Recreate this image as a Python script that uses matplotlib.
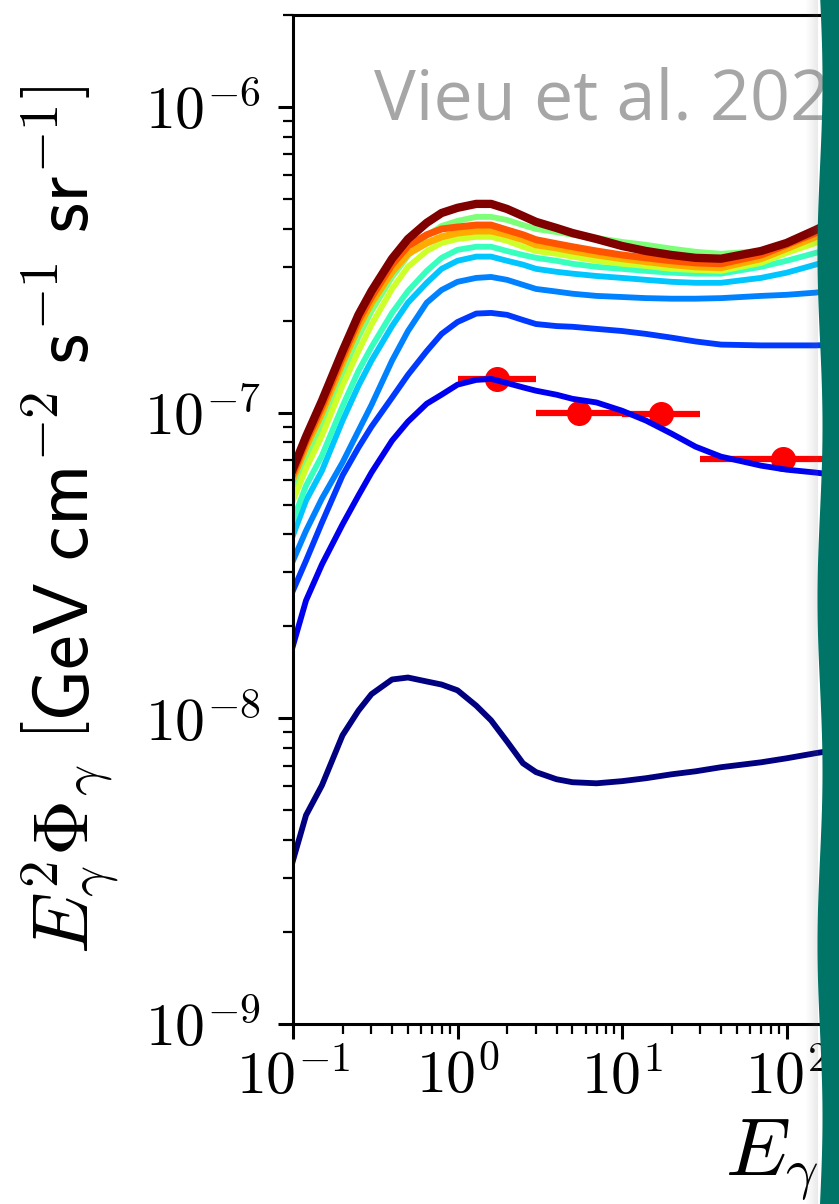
import matplotlib
matplotlib.use("Agg")
import matplotlib.pyplot as plt
from matplotlib.patches import Polygon, Rectangle
from matplotlib.ticker import FuncFormatter
import numpy as np

plt.rcParams['mathtext.fontset'] = 'cm'
plt.rcParams['font.family'] = ['DejaVu Sans']

# -----------------------------
# Data
# -----------------------------
energy = [0.1, 0.12, 0.15, 0.2, 0.25, 0.3, 0.4, 0.5, 0.65, 0.8, 1.0, 1.3, 1.6, 2,
          2.5, 3, 4, 5, 7, 10, 14, 20, 28, 40, 70, 100, 150, 300]

# model curves, from lowest to highest (jet colour index)
flux_c000 = [3.43e-9, 4.82e-9, 6.04e-9, 8.8e-9, 1.06e-8, 1.2e-8, 1.34e-8, 1.36e-8,
             1.32e-8, 1.29e-8, 1.235e-8, 1.10e-8, 9.85e-9, 8.4e-9, 7.13e-9, 6.67e-9,
             6.32e-9, 6.18e-9, 6.13e-9, 6.23e-9, 6.37e-9, 6.56e-9, 6.71e-9, 6.92e-9,
             7.18e-9, 7.40e-9, 7.69e-9, 8.16e-9]
flux_c010 = [1.73e-8, 2.43e-8, 3.19e-8, 4.31e-8, 5.36e-8, 6.37e-8, 8.1e-8, 9.35e-8,
             1.07e-7, 1.145e-7, 1.235e-7, 1.28e-7, 1.29e-7, 1.25e-7, 1.21e-7, 1.18e-7,
             1.145e-7, 1.11e-7, 1.08e-7, 1.015e-7, 9.42e-8, 8.54e-8, 7.74e-8, 7.18e-8,
             6.71e-8, 6.51e-8, 6.37e-8, 6.09e-8]
flux_c018 = [2.62e-8, 3.28e-8, 4.37e-8, 6.23e-8, 7.69e-8, 9.0e-8, 1.12e-7, 1.33e-7,
             1.59e-7, 1.81e-7, 1.98e-7, 2.11e-7, 2.12e-7, 2.09e-7, 2.01e-7, 1.95e-7,
             1.92e-7, 1.91e-7, 1.88e-7, 1.85e-7, 1.81e-7, 1.76e-7, 1.71e-7, 1.67e-7,
             1.66e-7, 1.66e-7, 1.66e-7, 1.68e-7]
flux_c025 = [3.28e-8, 4.11e-8, 5.24e-8, 6.87e-8, 8.73e-8, 1.06e-7, 1.48e-7, 1.85e-7,
             2.29e-7, 2.52e-7, 2.68e-7, 2.76e-7, 2.78e-7, 2.72e-7, 2.62e-7, 2.54e-7,
             2.49e-7, 2.45e-7, 2.41e-7, 2.39e-7, 2.37e-7, 2.36e-7, 2.36e-7, 2.37e-7,
             2.41e-7, 2.43e-7, 2.47e-7, 2.60e-7]
flux_c032 = [3.97e-8, 5.16e-8, 6.46e-8, 9.42e-8, 1.225e-7, 1.48e-7, 1.92e-7, 2.29e-7,
             2.66e-7, 2.955e-7, 3.14e-7, 3.24e-7, 3.24e-7, 3.14e-7, 3.05e-7, 2.955e-7,
             2.89e-7, 2.85e-7, 2.80e-7, 2.76e-7, 2.72e-7, 2.68e-7, 2.66e-7, 2.66e-7,
             2.76e-7, 2.87e-7, 3.05e-7, 3.38e-7]
flux_c042 = [4.44e-8, 5.77e-8, 7.24e-8, 1.05e-7, 1.37e-7, 1.64e-7, 2.12e-7, 2.50e-7,
             2.91e-7, 3.21e-7, 3.41e-7, 3.49e-7, 3.49e-7, 3.38e-7, 3.28e-7, 3.21e-7,
             3.14e-7, 3.07e-7, 3.0e-7, 2.955e-7, 2.91e-7, 2.87e-7, 2.85e-7, 2.85e-7,
             3.0e-7, 3.14e-7, 3.33e-7, 3.70e-7]
flux_c050 = [5.56e-8, 7.08e-8, 9.2e-8, 1.35e-7, 1.77e-7, 2.15e-7, 2.78e-7, 3.26e-7,
             3.79e-7, 4.08e-7, 4.24e-7, 4.37e-7, 4.37e-7, 4.27e-7, 4.11e-7, 3.99e-7,
             3.90e-7, 3.82e-7, 3.73e-7, 3.62e-7, 3.54e-7, 3.44e-7, 3.36e-7, 3.31e-7,
             3.38e-7, 3.51e-7, 3.70e-7, 4.18e-7]
flux_c060 = [5.16e-8, 6.56e-8, 8.41e-8, 1.225e-7, 1.59e-7, 1.94e-7, 2.54e-7, 3.0e-7,
             3.38e-7, 3.59e-7, 3.70e-7, 3.76e-7, 3.76e-7, 3.65e-7, 3.49e-7, 3.38e-7,
             3.31e-7, 3.24e-7, 3.14e-7, 3.07e-7, 3.02e-7, 2.955e-7, 2.93e-7, 2.91e-7,
             3.09e-7, 3.33e-7, 3.59e-7, 4.18e-7]
flux_c073 = [6.09e-8, 7.74e-8, 1.0e-7, 1.457e-7, 1.91e-7, 2.29e-7, 2.89e-7, 3.31e-7,
             3.59e-7, 3.76e-7, 3.87e-7, 3.93e-7, 3.93e-7, 3.82e-7, 3.68e-7, 3.54e-7,
             3.46e-7, 3.38e-7, 3.28e-7, 3.19e-7, 3.12e-7, 3.05e-7, 3.0e-7, 2.98e-7,
             3.19e-7, 3.44e-7, 3.76e-7, 4.50e-7]
flux_c082 = [6.3e-8, 8.04e-8, 1.046e-7, 1.52e-7, 2.0e-7, 2.39e-7, 3.05e-7, 3.51e-7,
             3.82e-7, 3.99e-7, 4.05e-7, 4.11e-7, 4.11e-7, 3.96e-7, 3.82e-7, 3.68e-7,
             3.57e-7, 3.49e-7, 3.38e-7, 3.28e-7, 3.21e-7, 3.14e-7, 3.09e-7, 3.07e-7,
             3.28e-7, 3.54e-7, 3.87e-7, 4.64e-7]
flux_c100 = [6.56e-8, 8.35e-8, 1.094e-7, 1.59e-7, 2.09e-7, 2.50e-7, 3.19e-7, 3.70e-7,
             4.18e-7, 4.50e-7, 4.68e-7, 4.82e-7, 4.82e-7, 4.64e-7, 4.40e-7, 4.21e-7,
             4.02e-7, 3.87e-7, 3.70e-7, 3.51e-7, 3.38e-7, 3.28e-7, 3.21e-7, 3.19e-7,
             3.38e-7, 3.59e-7, 3.96e-7, 4.75e-7]

curves = [flux_c000, flux_c010, flux_c018, flux_c025, flux_c032, flux_c042,
          flux_c050, flux_c060, flux_c073, flux_c082, flux_c100]
color_index = [0.0, 0.10, 0.18, 0.25, 0.32, 0.42, 0.50, 0.60, 0.73, 0.82, 1.0]

# measured points (energy bins)
data_e = [1.73, 5.48, 17.3, 94.9]
data_lo = [1.0, 3.0, 10.0, 30.0]
data_hi = [3.0, 10.0, 30.0, 300.0]
data_flux = [1.29e-7, 1.0e-7, 0.99e-7, 7.08e-8]

# -----------------------------
# Figure
# -----------------------------
W, H = 839, 1204
fig = plt.figure(figsize=(W / 100, H / 100), dpi=100)
ax_w = 7 * 164.5 / W
ax = fig.add_axes([293 / W, 180 / H, ax_w, 1009 / H])

xerr = [np.array(data_e) - np.array(data_lo), np.array(data_hi) - np.array(data_e)]
ax.errorbar(data_e, data_flux, xerr=xerr, fmt='o', color='red', ms=17,
            elinewidth=4.5, capsize=0, zorder=1.5)

for vals, c in zip(curves, color_index):
    lw = 4.2
    if c >= 0.7:
        lw = 5.0
    if c == 1.0:
        lw = 6.0
    ax.plot(energy, vals, color=plt.cm.jet(c), lw=lw, zorder=2,
            solid_joinstyle='round')

ax.set_xscale('log')
ax.set_yscale('log')
ax.set_xlim(0.1, 1e6)
ax.set_ylim(1e-9, 2e-6)

pow_fmt = FuncFormatter(lambda v, p: r'$10^{%d}$' % int(round(np.log10(v))))
ax.xaxis.set_major_formatter(pow_fmt)
ax.yaxis.set_major_formatter(pow_fmt)

for s in ax.spines.values():
    s.set_linewidth(2.2)
ax.tick_params(which='major', length=11, width=2.2, labelsize=43, pad=6)
ax.tick_params(which='minor', length=7, width=1.6)
ax.tick_params(axis='y', which='major', pad=12)

ax.set_ylabel(r'$E_\gamma^2\Phi_\gamma\ \left[\mathsf{GeV\ cm}^{-2}\ \mathsf{s}^{-1}\ \mathsf{sr}^{-1}\right]$',
              fontsize=56)
ax.yaxis.set_label_coords(-0.149, 0.5)
ax.set_xlabel(r'$E_\gamma\ \left[\mathsf{GeV}\right]$', fontsize=59, ha='left')
ax.xaxis.set_label_coords(0.375, -0.09)

fig.text(374 / W, 1 - 119 / H, 'Vieu et al. 2022', fontsize=50.5, color='#a6a6a6',
         family='Open Sans', va='baseline', ha='left')

# teal slide panel on the right, with its soft shadow
for i in range(12):
    fig.patches.append(Rectangle(((806 + i) / W, 0), 1 / W, 1, transform=fig.transFigure,
                                 color='0.45', alpha=0.012 * (i + 1), lw=0, zorder=5))
yy = np.linspace(0, 1, 200)
xx = (820 + 2.5 * np.sin(yy * H / 55.0)) / W
pts = [(1.01, 0), (1.01, 1)] + list(zip(xx[::-1], yy[::-1]))
fig.patches.append(Polygon(pts, closed=True, transform=fig.transFigure,
                           facecolor='#007466', edgecolor='none', zorder=6))

fig.savefig('out.png', dpi=100)
